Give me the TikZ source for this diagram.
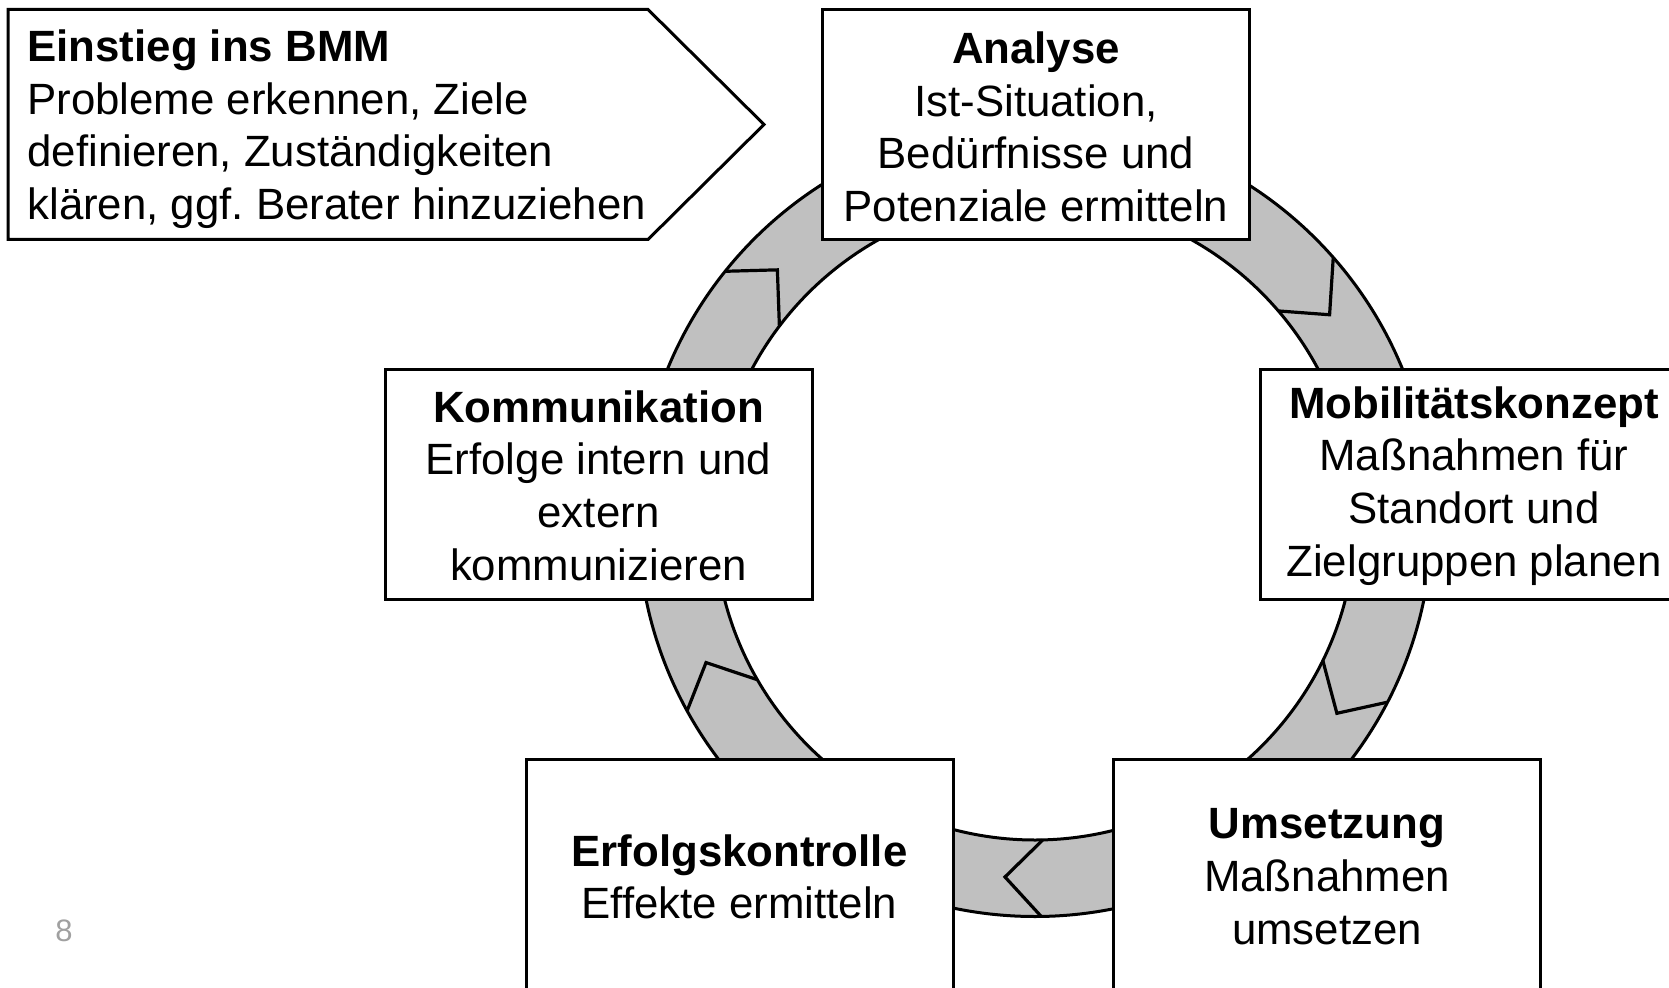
\documentclass[tikz,border=0pt]{standalone}
\usepackage{fontspec}
\setmainfont{Liberation Sans}
\usetikzlibrary{calc}
\definecolor{ringgray}{RGB}{192,192,192}
\definecolor{pagegray}{RGB}{160,160,160}
\frenchspacing
\begin{document}
\begin{tikzpicture}[x=0.5pt,y=0.5pt,line join=miter,
  mainfont/.style={font=\fontsize{21.9pt}{26.3pt}\selectfont},
  stagebox/.style={draw=black,line width=1.5pt,fill=white,minimum width=213.5pt,
    minimum height=115pt,inner sep=0pt},
  stagetext/.style={inner sep=0pt,align=center,mainfont},
  ringline/.style={draw=black,line width=1.5pt},
  chevline/.style={draw=black,line width=1.6pt}]
\clip (0,0) rectangle (1669,987);
\coordinate (c) at (1035,467.5);
% ring
\fill[ringgray,even odd rule] (c) circle[radius=397] (c) circle[radius=320.5];
\draw[ringline] (c) circle[radius=397];
\draw[ringline] (c) circle[radius=320.5];
% chevron joints (clockwise flow)
\draw[chevline] ($(c)+(141.3:397)$) -- ($(c)+(135.9:358.75)$) -- ($(c)+(142.9:320.5)$);
\draw[chevline] ($(c)+(41.3:397)$) -- ($(c)+(34.8:358.75)$) -- ($(c)+(40.6:320.5)$);
\draw[chevline] ($(c)+(-27.4:397)$) -- ($(c)+(-32.7:358.75)$) -- ($(c)+(-26.1:320.5)$);
\draw[chevline] ($(c)+(-89.1:397)$) -- ($(c)+(-94.8:358.75)$) -- ($(c)+(-88.6:320.5)$);
\draw[chevline] ($(c)+(208.8:397)$) -- ($(c)+(203.5:358.75)$) -- ($(c)+(210:320.5)$);
% entry pentagon
\draw[line width=1.5pt,fill=white] (8,977.5) -- (648,977.5) -- (764,862.5) -- (648,747.5) -- (8,747.5) -- cycle;
\node[anchor=west,align=left,inner sep=0pt,mainfont] (ein) at (27,858)
  {\textbf{Einstieg ins BMM}\\Probleme erkennen, Ziele\\definieren, Zuständigkeiten\\klären, ggf. Berater hinzuziehen};
% stage boxes
\node[stagebox] (ana) at (1036,862.5) {};
\node[stagebox] (kom) at (598.5,502.7) {};
\node[stagebox] (mob) at (1474,502.7) {};
\node[stagebox] (erf) at (739.5,112.7) {};
\node[stagebox] (ums) at (1327,112.7) {};
\node[stagetext] (anaT) at ($(ana)+(0,-2.4)$) {\textbf{Analyse}\\Ist-Situation,\\Bedürfnisse und\\Potenziale ermitteln};
\node[stagetext] (komT) at ($(kom)+(0,-1.2)$) {\textbf{Kommunikation}\\Erfolge intern und\\extern\\kommunizieren};
\node[stagetext] (mobT) at ($(mob)+(0,-1.6)$) {\textbf{Mobilitätskonzept}\\Maßnahmen für\\Standort und\\Zielgruppen planen};
\node[stagetext] (erfT) at ($(erf)+(0,-2.4)$) {\textbf{Erfolgskontrolle}\\Effekte ermitteln};
\node[stagetext] (umsT) at ($(ums)+(0,-2.4)$) {\textbf{Umsetzung}\\Maßnahmen\\umsetzen};
% page number
\node[text=pagegray,font=\fontsize{15.5pt}{18pt}\selectfont,inner sep=0pt] (pg) at (64,56) {8};
\end{tikzpicture}
\end{document}
